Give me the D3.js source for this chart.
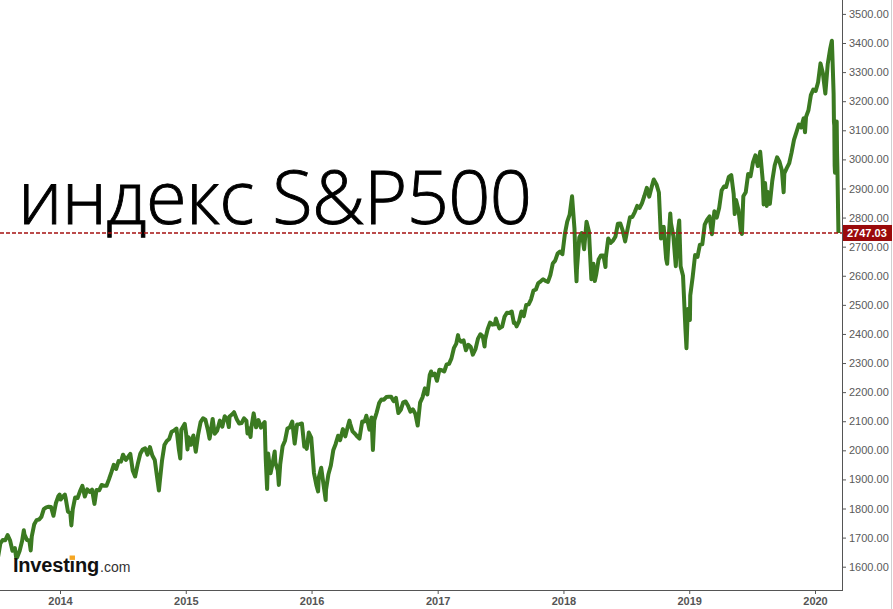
<!DOCTYPE html>
<html><head><meta charset="utf-8">
<script src="https://cdn.jsdelivr.net/npm/d3@7"></script>
<style>
html,body{margin:0;padding:0;background:#fff;}
svg{display:block;}
</style></head>
<body>
<svg id="chart" width="893" height="609"></svg>
<script>
// ---- data: S&P 500 closes (MM-DD, value) grouped by year ----
const y2013 = [["07-05",1632],["07-12",1680],["07-19",1692],["07-26",1691],["08-02",1709],["08-09",1691],["08-16",1655],["08-23",1664],["08-27",1630],["08-30",1633],["09-06",1655],["09-13",1688],["09-18",1725],["09-20",1710],["09-27",1692],["10-04",1690],["10-08",1656],["10-11",1703],["10-18",1745],["10-25",1760],["11-01",1762],["11-08",1771],["11-15",1798],["11-22",1804],["11-29",1806],["12-06",1805],["12-13",1775],["12-20",1818],["12-27",1842],["12-31",1848]];
const y2014 = [["01-03",1831],["01-10",1842],["01-15",1848],["01-17",1838],["01-24",1790],["01-31",1783],["02-03",1742],["02-07",1797],["02-14",1838],["02-21",1836],["02-28",1859],["03-07",1878],["03-14",1841],["03-21",1866],["03-28",1857],["04-04",1865],["04-11",1816],["04-17",1864],["04-25",1863],["05-02",1881],["05-09",1878],["05-16",1878],["05-23",1900],["05-30",1924],["06-06",1950],["06-13",1936],["06-20",1963],["06-27",1961],["07-03",1985],["07-11",1967],["07-18",1978],["07-24",1988],["07-31",1931],["08-07",1910],["08-15",1955],["08-22",1988],["08-29",2003],["09-05",2007],["09-12",1985],["09-19",2011],["09-26",1982],["10-03",1967],["10-10",1906],["10-15",1862],["10-17",1886],["10-24",1964],["10-31",2018],["11-07",2032],["11-14",2039],["11-21",2064],["11-28",2068],["12-05",2075],["12-12",2003],["12-16",1972],["12-19",2071],["12-29",2091]];
const y2015 = [["01-02",2058],["01-06",2003],["01-09",2045],["01-16",2019],["01-23",2051],["01-30",1995],["02-06",2055],["02-13",2097],["02-20",2110],["02-27",2105],["03-06",2071],["03-11",2040],["03-13",2053],["03-20",2108],["03-26",2057],["04-02",2067],["04-10",2102],["04-17",2081],["04-24",2117],["05-01",2108],["05-06",2080],["05-08",2116],["05-15",2123],["05-21",2131],["05-29",2107],["06-05",2092],["06-12",2094],["06-19",2110],["06-26",2101],["06-29",2058],["07-02",2076],["07-08",2046],["07-10",2076],["07-17",2127],["07-24",2079],["07-31",2104],["08-07",2078],["08-14",2091],["08-18",2097],["08-21",1971],["08-25",1867],["08-28",1989],["09-04",1921],["09-11",1961],["09-16",1996],["09-18",1958],["09-25",1931],["09-28",1881],["10-02",1951],["10-09",2014],["10-16",2033],["10-23",2075],["10-30",2079],["11-06",2099],["11-13",2023],["11-20",2089],["11-27",2090],["12-04",2092],["12-11",2012],["12-14",2021],["12-18",2005],["12-24",2061],["12-31",2044]];
const y2016 = [["01-08",1922],["01-15",1880],["01-20",1859],["01-22",1907],["01-29",1940],["02-05",1880],["02-11",1829],["02-12",1865],["02-19",1918],["02-26",1948],["03-04",2000],["03-11",2022],["03-18",2050],["03-24",2035],["04-01",2073],["04-08",2048],["04-15",2081],["04-20",2102],["04-22",2092],["04-29",2065],["05-06",2057],["05-13",2047],["05-19",2040],["05-27",2099],["06-03",2099],["06-08",2119],["06-17",2071],["06-23",2113],["06-27",2001],["07-01",2103],["07-08",2130],["07-15",2162],["07-22",2175],["07-29",2174],["08-05",2183],["08-12",2184],["08-19",2184],["08-26",2169],["09-02",2180],["09-09",2128],["09-16",2139],["09-23",2165],["09-30",2168],["10-07",2153],["10-14",2133],["10-21",2141],["10-28",2126],["11-04",2085],["11-11",2164],["11-18",2182],["11-25",2213],["12-02",2192],["12-09",2259],["12-13",2271],["12-16",2258],["12-23",2264],["12-30",2239]];
const y2017 = [["01-06",2277],["01-13",2275],["01-20",2271],["01-27",2295],["02-03",2297],["02-10",2316],["02-17",2351],["02-24",2367],["03-01",2396],["03-03",2383],["03-10",2373],["03-17",2378],["03-24",2344],["03-31",2363],["04-07",2355],["04-13",2329],["04-21",2349],["04-28",2384],["05-05",2399],["05-12",2391],["05-17",2357],["05-19",2382],["05-26",2416],["06-02",2439],["06-09",2432],["06-16",2433],["06-19",2453],["06-23",2438],["06-29",2419],["07-07",2425],["07-14",2459],["07-21",2473],["07-28",2472],["08-04",2477],["08-10",2438],["08-11",2441],["08-17",2430],["08-18",2426],["08-25",2443],["09-01",2477],["09-08",2461],["09-15",2500],["09-22",2502],["09-29",2519],["10-06",2549],["10-13",2553],["10-20",2575],["10-27",2581],["11-03",2588],["11-10",2582],["11-17",2579],["11-24",2602],["12-01",2642],["12-08",2652],["12-15",2676],["12-22",2683],["12-29",2674]];
const y2018 = [["01-05",2743],["01-12",2786],["01-19",2810],["01-26",2873],["02-02",2762],["02-05",2649],["02-08",2581],["02-09",2620],["02-16",2732],["02-23",2747],["03-02",2691],["03-09",2786],["03-16",2752],["03-23",2588],["03-29",2641],["04-02",2582],["04-06",2604],["04-13",2656],["04-20",2670],["04-27",2670],["05-03",2630],["05-04",2663],["05-11",2728],["05-18",2713],["05-25",2721],["06-01",2735],["06-08",2779],["06-15",2780],["06-22",2755],["06-29",2718],["07-06",2760],["07-13",2801],["07-20",2802],["07-27",2819],["08-03",2840],["08-10",2833],["08-17",2850],["08-24",2875],["08-31",2902],["09-07",2872],["09-14",2905],["09-20",2931],["09-28",2914],["10-05",2886],["10-11",2728],["10-12",2767],["10-19",2768],["10-26",2658],["10-29",2641],["11-02",2723],["11-07",2814],["11-09",2781],["11-16",2736],["11-23",2633],["11-30",2760],["12-03",2790],["12-07",2633],["12-14",2600],["12-21",2417],["12-24",2351],["12-28",2486]];
const y2019 = [["01-03",2448],["01-04",2532],["01-11",2596],["01-18",2671],["01-25",2665],["02-01",2707],["02-08",2708],["02-15",2776],["02-22",2793],["03-01",2804],["03-08",2743],["03-15",2822],["03-22",2800],["03-29",2834],["04-05",2893],["04-12",2907],["04-18",2905],["04-26",2940],["05-03",2946],["05-10",2881],["05-13",2812],["05-17",2860],["05-24",2826],["05-31",2752],["06-03",2744],["06-07",2873],["06-14",2887],["06-21",2950],["06-28",2942],["07-05",2990],["07-12",3014],["07-19",2977],["07-26",3026],["08-02",2932],["08-05",2845],["08-09",2919],["08-14",2840],["08-16",2889],["08-23",2847],["08-30",2926],["09-06",2979],["09-13",3007],["09-20",2992],["09-27",2962],["10-02",2887],["10-04",2952],["10-11",2970],["10-18",2986],["10-25",3023],["11-01",3067],["11-08",3093],["11-15",3120],["11-22",3110],["11-29",3141],["12-03",3093],["12-06",3146],["12-13",3169],["12-20",3221],["12-27",3240]];
const y2020 = [["01-03",3235],["01-10",3265],["01-17",3330],["01-24",3295],["01-31",3226],["02-07",3328],["02-14",3380],["02-19",3408],["02-20",3373],["02-21",3338],["02-24",3226],["02-25",3128],["02-26",3116],["02-27",2979],["02-28",2954],["03-02",3090],["03-03",3003],["03-04",3130],["03-05",3023],["03-06",2972],["03-09",2747.03]];
const lastPrice = 2747.03;
const yTicks = [1600,1700,1800,1900,2000,2100,2200,2300,2400,2500,2600,2700,2800,2900,3000,3100,3200,3300,3400,3500];
const xTickYears = [2014,2015,2016,2017,2018,2019,2020];
const titleText = "индекс S&P500";

// ---- build series ----
const parse = d3.timeParse("%Y-%m-%d");
const years = {2013:y2013,2014:y2014,2015:y2015,2016:y2016,2017:y2017,2018:y2018,2019:y2019,2020:y2020};
const series = [];
Object.keys(years).forEach(yr => years[yr].forEach(([md,v]) => series.push({date: parse(yr+"-"+md), value: v})));

const W = 893, H = 609;
const axisX = 842, axisY = 590;
const svg = d3.select("#chart");
svg.append("rect").attr("width",W).attr("height",H).attr("fill","#fff");

const x = d3.scaleTime().domain([new Date(2014,0,1), new Date(2020,0,1)]).range([60, 815]);
const y = d3.scaleLinear().domain([1600, 3400]).range([566.7, 43]);

// clip
svg.append("clipPath").attr("id","plot").append("rect").attr("x",0).attr("y",0).attr("width",axisX).attr("height",axisY);

// title
const title = svg.append("text")
  .attr("x", 18).attr("y", 224)
  .attr("font-family", "'Open Sans', 'Noto Sans', sans-serif")
  .attr("font-weight", 300)
  .attr("font-size", 74)
  .attr("fill", "#000")
  .attr("stroke", "#000")
  .attr("stroke-width", 0.9)
  .text(titleText);
// fit to reference width
const tw = title.node().getComputedTextLength();
const targetW = 514;
const ls = (targetW - tw) / (titleText.length - 1);
title.attr("letter-spacing", ls.toFixed(2));

// line
const line = d3.line().x(d => x(d.date)).y(d => y(d.value)).curve(d3.curveLinear);
svg.append("g").attr("clip-path","url(#plot)")
  .append("path").datum(series)
  .attr("d", line)
  .attr("fill","none")
  .attr("stroke","#3b7a21")
  .attr("stroke-width",4)
  .attr("stroke-linejoin","round");

// dashed last-price line
svg.append("line")
  .attr("x1",0).attr("x2",axisX)
  .attr("y1",y(lastPrice)).attr("y2",y(lastPrice))
  .attr("stroke","#a51010").attr("stroke-width",1.6)
  .attr("stroke-dasharray","4,2");

// y axis
const yAxis = d3.axisRight(y).tickValues(yTicks).tickFormat(d3.format(".2f")).tickSize(4).tickPadding(3);
const gy = svg.append("g").attr("transform",`translate(${axisX},0)`).call(yAxis);
gy.select(".domain").remove();
gy.selectAll(".tick line").attr("stroke","#555");
gy.selectAll(".tick text").attr("font-family","'Liberation Sans', Arial, sans-serif").attr("font-size",11).attr("fill","#5a5a5a");
svg.append("line").attr("x1",axisX+0.5).attr("x2",axisX+0.5).attr("y1",0).attr("y2",axisY+0.5).attr("stroke","#555").attr("stroke-width",1);

// x axis
const xAxis = d3.axisBottom(x).tickValues(xTickYears.map(yr => new Date(yr,0,1))).tickFormat(d3.timeFormat("%Y")).tickSize(4).tickPadding(3);
const gx = svg.append("g").attr("transform",`translate(0,${axisY})`).call(xAxis);
gx.select(".domain").remove();
gx.selectAll(".tick line").attr("stroke","#555");
gx.selectAll(".tick text").attr("font-family","'Liberation Sans', Arial, sans-serif").attr("font-size",11).attr("font-weight","bold").attr("fill","#555");
svg.append("line").attr("x1",0).attr("x2",axisX+1).attr("y1",axisY+0.5).attr("y2",axisY+0.5).attr("stroke","#555").attr("stroke-width",1);

// right border
svg.append("line").attr("x1",891.5).attr("x2",891.5).attr("y1",0).attr("y2",H).attr("stroke","#d0d0d0").attr("stroke-width",1);

// price label
const py = y(lastPrice);
svg.append("rect").attr("x",axisX+1).attr("y",py-8).attr("width",49).attr("height",16).attr("fill","#9a0a0a");
svg.append("text").attr("x",axisX+5).attr("y",py+4)
  .attr("font-family","'Liberation Sans', Arial, sans-serif").attr("font-size",11).attr("font-weight","bold")
  .attr("fill","#fff").text(d3.format(".2f")(lastPrice));

// logo
const logo = svg.append("g").attr("transform","translate(13,572)");
const inv = logo.append("text").attr("x",0).attr("y",0)
  .attr("font-family","'Liberation Sans', Arial, sans-serif").attr("font-size",20).attr("font-weight","bold")
  .attr("letter-spacing",-0.2).attr("fill","#111").text("Investing");
const iw = inv.node().getComputedTextLength();
// orange dot over second "i"
const ext = inv.node().getExtentOfChar(6);
logo.append("rect").attr("x",ext.x+ext.width/2-2.7).attr("y",-16.5).attr("width",5.4).attr("height",4.4).attr("fill","#f5a623");
logo.append("text").attr("x",iw+1).attr("y",0)
  .attr("font-family","'Liberation Sans', Arial, sans-serif").attr("font-size",14)
  .attr("fill","#333").text(".com");
</script>
</body></html>
